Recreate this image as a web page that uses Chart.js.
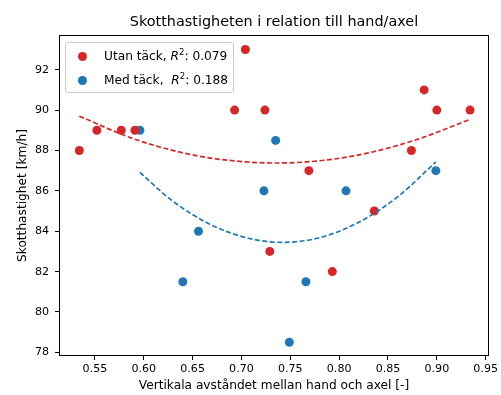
<!DOCTYPE html>
<html>
<head>
<meta charset="utf-8">
<script src="https://cdn.jsdelivr.net/npm/chart.js@4/dist/chart.umd.min.js"></script>
<style>
  body { margin: 0; background: #fff; }
  #wrap { position: relative; width: 501px; height: 395px; }
  #title {
    position: absolute; left: 59px; width: 430px; top: 12px; line-height: 18px;
    text-align: center; white-space: nowrap;
    font-family: "DejaVu Sans", sans-serif; font-size: 14.4px; color: #000;
  }
  #legend {
    position: absolute; left: 65px; top: 42px; width: 167px; height: 49px;
    border: 1px solid #ccc; border-radius: 3px; background: rgba(255,255,255,0.8);
    font-family: "DejaVu Sans", sans-serif; font-size: 12.2px; color: #000;
  }
  .item { position: absolute; left: 0; height: 15px; line-height: 15px; white-space: pre; }
  .dot { position: absolute; left: 12px; top: 3px; width: 9px; height: 9px; border-radius: 50%; }
  .lbl { position: absolute; left: 38px; top: 0; }
  sup { font-size: 8.5px; line-height: 0; vertical-align: 5px; }
</style>
</head>
<body>
<div id="wrap">
  <canvas id="chart"></canvas>
  <div id="title">Skotthastigheten i relation till hand/axel</div>
  <div id="legend">
    <div class="item" style="top:5.5px"><span class="dot" style="background:#d62728"></span><span class="lbl">Utan täck, <i>R</i><sup>2</sup>: 0.079</span></div>
    <div class="item" style="top:29.5px"><span class="dot" style="background:#1f77b4"></span><span class="lbl">Med täck,  <i>R</i><sup>2</sup>: 0.188</span></div>
  </div>
</div>
<script>
// values
const utanX = [0.534, 0.552, 0.577, 0.591, 0.693, 0.704, 0.724, 0.729, 0.769, 0.793, 0.836, 0.874, 0.887, 0.900, 0.934];
const utanY = [88, 89, 89, 89, 90, 93, 90, 83, 87, 82, 85, 88, 91, 90, 90];
const medX = [0.596, 0.640, 0.656, 0.723, 0.735, 0.749, 0.766, 0.807, 0.899];
const medY = [89, 81.5, 84, 86, 88.5, 78.5, 81.5, 86, 87];

// dashed fit curves
const utanFitX = [0.534, 0.59, 0.65, 0.70, 0.735, 0.78, 0.83, 0.88, 0.934];
const utanFitY = [89.70, 88.57, 87.78, 87.45, 87.38, 87.49, 87.88, 88.55, 89.54];
const medFitX = [0.596, 0.63, 0.67, 0.71, 0.742, 0.78, 0.82, 0.86, 0.899];
const medFitY = [86.91, 85.48, 84.29, 83.62, 83.45, 83.68, 84.44, 85.71, 87.43];

const xTicks = [0.55, 0.60, 0.65, 0.70, 0.75, 0.80, 0.85, 0.90, 0.95];
const yTicks = [78, 80, 82, 84, 86, 88, 90, 92];

const RED = '#d62728';
const BLUE = '#1f77b4';
const FONT = '"DejaVu Sans", sans-serif';

function pts(xs, ys) {
    return xs.map((x, i) => ({ x: x, y: ys[i] }));
}

const frame = {
    id: 'frame',
    afterDatasetsDraw(chart) {
        const a = chart.chartArea;
        const ctx = chart.ctx;
        ctx.save();
        ctx.strokeStyle = '#000';
        ctx.lineWidth = 1;
        ctx.strokeRect(Math.round(a.left) + 0.5, Math.round(a.top) + 0.5,
            Math.round(a.right - a.left) - 1, Math.round(a.bottom - a.top) - 1);
        ctx.restore();
    }
};

Chart.defaults.font.family = FONT;
Chart.defaults.color = '#000';

new Chart(document.getElementById('chart'), {
    type: 'scatter',
    data: {
        datasets: [
            { label: 'fit utan', data: pts(utanFitX, utanFitY), showLine: true, pointRadius: 0,
              borderColor: RED, borderWidth: 1.7, borderDash: [5, 2.5], cubicInterpolationMode: 'monotone', order: 1 },
            { label: 'fit med', data: pts(medFitX, medFitY), showLine: true, pointRadius: 0,
              borderColor: BLUE, borderWidth: 1.7, borderDash: [5, 2.5], cubicInterpolationMode: 'monotone', order: 1 },
            { label: 'Utan täck', data: pts(utanX, utanY), pointRadius: 4.5,
              backgroundColor: RED, borderColor: RED, borderWidth: 0, order: 2 },
            { label: 'Med täck', data: pts(medX, medY), pointRadius: 4.5,
              backgroundColor: BLUE, borderColor: BLUE, borderWidth: 0, order: 2 }
        ]
    },
    options: {
        responsive: true,
        maintainAspectRatio: false,
        animation: false,
        layout: { padding: { left: 0, right: 12, top: 35, bottom: 0 } },
        plugins: {
            legend: { display: false },
            tooltip: { enabled: false },
            title: { display: false }
        },
        scales: {
            x: {
                type: 'linear',
                min: 0.5132,
                max: 0.9534,
                border: { display: false },
                grid: { drawOnChartArea: false, drawTicks: true, tickLength: 4, tickColor: '#000' },
                ticks: { font: { size: 11.1 }, padding: 2.5, maxRotation: 0,
                         callback: v => v.toFixed(2) },
                afterBuildTicks: s => { s.ticks = xTicks.map(v => ({ value: v })); },
                afterFit: s => { s.height = 39; s.paddingLeft = 0; s.paddingRight = 0; },
                title: { display: true, text: 'Vertikala avståndet mellan hand och axel [-]',
                         font: { size: 12.2 }, padding: { top: 0, bottom: 1.5 } }
            },
            y: {
                type: 'linear',
                min: 77.82,
                max: 93.72,
                border: { display: false },
                grid: { drawOnChartArea: false, drawTicks: true, tickLength: 4, tickColor: '#000' },
                ticks: { font: { size: 11.1 }, padding: 6, callback: v => String(v) },
                afterBuildTicks: s => { s.ticks = yTicks.map(v => ({ value: v })); },
                afterFit: s => { s.width = 59; s.paddingTop = 0; s.paddingBottom = 0; },
                title: { display: true, text: 'Skotthastighet [km/h]',
                         font: { size: 12.2 }, padding: { top: 15.5, bottom: 0 } }
            }
        }
    },
    plugins: [frame]
});
</script>
</body>
</html>
